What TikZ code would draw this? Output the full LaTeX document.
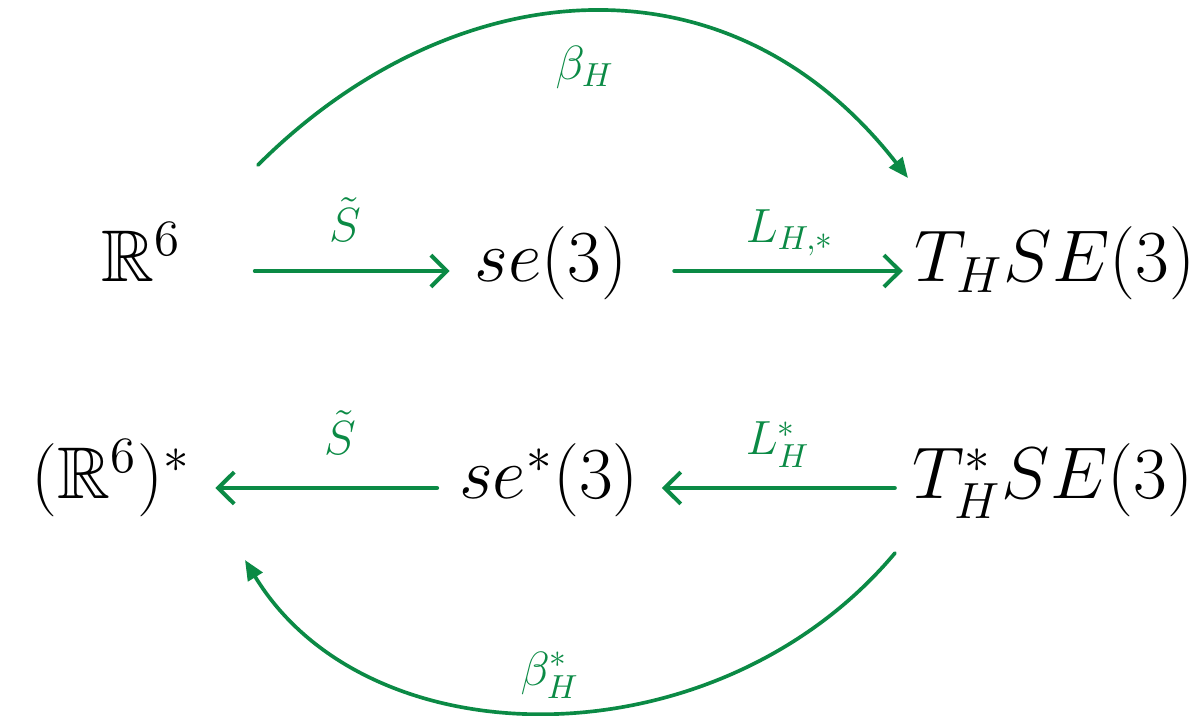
\documentclass[tikz,border=0pt]{standalone}
\usepackage{amsmath,amssymb}
\usepackage{xcolor}
\usepackage{tikz}
\usetikzlibrary{arrows.meta}
\definecolor{cdGreen}{HTML}{0B8A45}
\definecolor{cdInk}{HTML}{000000}
\tikzset{
  cd diagram/.style={x=0.3pt, y=-0.3pt, line cap=round, line join=round},
  cd obj/.style={font=\huge, scale=1.06, text=cdInk,
    inner sep=0pt, outer sep=0pt, text height=0.8em, text depth=0.2em},
  cd label/.style={font=\Large, text=cdGreen, inner sep=0pt},
  cd arrow/.style={-{Straight Barb[length=4.8pt,width=9.5pt]}, draw=cdGreen, line width=1.2pt},
  cd curve/.style={-{Triangle[length=6pt,width=5pt]}, draw=cdGreen, line width=1.1pt}
}

\begin{document}
\begin{tikzpicture}[cd diagram]
\useasboundingbox (0,0) rectangle (1202,716);
% objects
\node[cd obj] (r6)    at (141,271)  {$\mathbb{R}^6$};
\node[cd obj] (se3)   at (551,271)  {$se(3)$};
\node[cd obj] (tse3)  at (1055,271) {$T_H SE(3)$};
\node[cd obj] (r6d)   at (111,488)  {$(\mathbb{R}^6)^*$};
\node[cd obj] (se3d)  at (549,488)  {$se^*(3)$};
\node[cd obj] (tse3d) at (1053,488) {$T_H^* SE(3)$};
% straight maps
\draw[cd arrow, shorten <=22.2pt, shorten >=7.5pt] (r6) -- (se3);
\draw[cd arrow, shorten <=14.1pt, shorten >=3.6pt] (se3) -- (tse3);
\draw[cd arrow, shorten <=6.6pt, shorten >=7.5pt] (se3d) -- (r6d);
\draw[cd arrow, shorten <=5.4pt, shorten >=6.9pt] (tse3d) -- (se3d);
\node[cd label] (sTop) at (345,220) {$\tilde{S}$};
\node[cd label] (lTop) at (790,233) {$L_{H,*}$};
\node[cd label] (sBot) at (340,433) {$\tilde{S}$};
\node[cd label] (lBot) at (778,445) {$L_H^*$};
% curved maps
\coordinate (topA) at (258,165);
\coordinate (topB) at (908,178);
\coordinate (botA) at (895,553);
\coordinate (botB) at (245,560);
\draw[cd curve] (topA) .. controls (447,-24) and (724,-58) .. (topB);
\draw[cd curve] (botA) .. controls (718,764) and (369,764) .. (botB);
\node[cd label] (bTop) at (585,67) {$\beta_H$};
\node[cd label] (bBot) at (550,675) {$\beta_H^*$};
\end{tikzpicture}
\end{document}
